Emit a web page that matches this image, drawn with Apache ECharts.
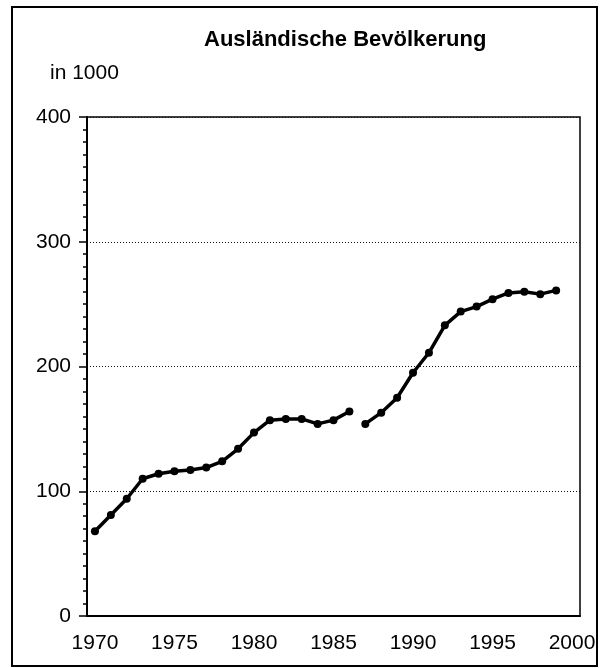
<!DOCTYPE html>
<html>
<head>
<meta charset="utf-8">
<script src="https://cdn.jsdelivr.net/npm/echarts@6/dist/echarts.min.js"></script>
<style>
  html, body { margin: 0; padding: 0; background: #fff; }
  #main { width: 603px; height: 668px; }
</style>
</head>
<body>
<div id="main"></div>
<script>
// Jahre auf der x-Achse (1970 bis 2000)
const years = [];
for (let y = 1970; y <= 2000; y++) years.push(String(y));

// Ausländische Bevölkerung in 1000 – Bruch zwischen 1986 und 1987
const yearsA = ["1970","1971","1972","1973","1974","1975","1976","1977","1978","1979","1980","1981","1982","1983","1984","1985","1986"];
const valuesA = [68, 81, 94, 110, 114, 116, 117, 119, 124, 134, 147, 157, 158, 158, 154, 157, 164];
const yearsB = ["1987","1988","1989","1990","1991","1992","1993","1994","1995","1996","1997","1998","1999"];
const valuesB = [154, 163, 175, 195, 211, 233, 244, 248, 254, 259, 260, 258, 261];

const yTicks = [0, 100, 200, 300, 400];

function toSeries(ys, vs) {
  return years.map((y) => {
    const i = ys.indexOf(y);
    return i >= 0 ? vs[i] : null;
  });
}

const FONT = "'Liberation Sans Narrow', 'Arial Narrow', 'Liberation Sans', Arial, sans-serif";

var myChart = echarts.init(document.getElementById("main"), null, { renderer: "canvas" });

var option = {
  animation: false,
  backgroundColor: "#fff",
  title: {
    text: "Ausländische Bevölkerung",
    left: 199,
    top: 24,
    textStyle: { fontFamily: FONT, fontSize: 22, fontWeight: "bold", color: "#000" },
  },
  graphic: [
    {
      type: "rect",
      shape: { x: 12, y: 7, width: 585, height: 659 },
      style: { fill: "none", stroke: "#000", lineWidth: 2 },
      silent: true,
    },
    {
      type: "text",
      left: 50,
      top: 63,
      style: { text: "in 1000", font: "21px " + FONT, fill: "#000" },
    },
  ],
  grid: {
    left: 87,
    top: 117,
    right: 23,
    bottom: 52,
    show: true,
    borderColor: "#000",
    borderWidth: 1.5,
  },
  xAxis: {
    type: "category",
    data: years,
    boundaryGap: true,
    axisLine: { lineStyle: { color: "#000", width: 2 } },
    axisTick: { alignWithLabel: true, interval: 0, length: 7, lineStyle: { color: "#000", width: 2 } },
    axisLabel: { interval: 4, margin: 17, color: "#000", fontFamily: FONT, fontSize: 21 },
    splitLine: { show: false },
  },
  yAxis: {
    type: "value",
    min: yTicks[0],
    max: yTicks[yTicks.length - 1],
    interval: 100,
    axisLine: { show: true, lineStyle: { color: "#000", width: 2 } },
    axisTick: { show: true, length: 8, lineStyle: { color: "#000", width: 1.5 } },
    minorTick: { show: true, splitNumber: 10, length: 4, lineStyle: { color: "#000", width: 1.5 } },
    axisLabel: { margin: 16, color: "#000", fontFamily: FONT, fontSize: 21 },
    splitLine: { show: true, lineStyle: { color: "#111", width: 1, type: [1, 2] } },
  },
  series: [
    {
      type: "line",
      data: toSeries(yearsA, valuesA),
      symbol: "circle",
      symbolSize: 8,
      connectNulls: false,
      lineStyle: { color: "#000", width: 3.5 },
      itemStyle: { color: "#000" },
    },
    {
      type: "line",
      data: toSeries(yearsB, valuesB),
      symbol: "circle",
      symbolSize: 8,
      connectNulls: false,
      lineStyle: { color: "#000", width: 3.5 },
      itemStyle: { color: "#000" },
    },
  ],
};

option && myChart.setOption(option);
</script>
</body>
</html>
